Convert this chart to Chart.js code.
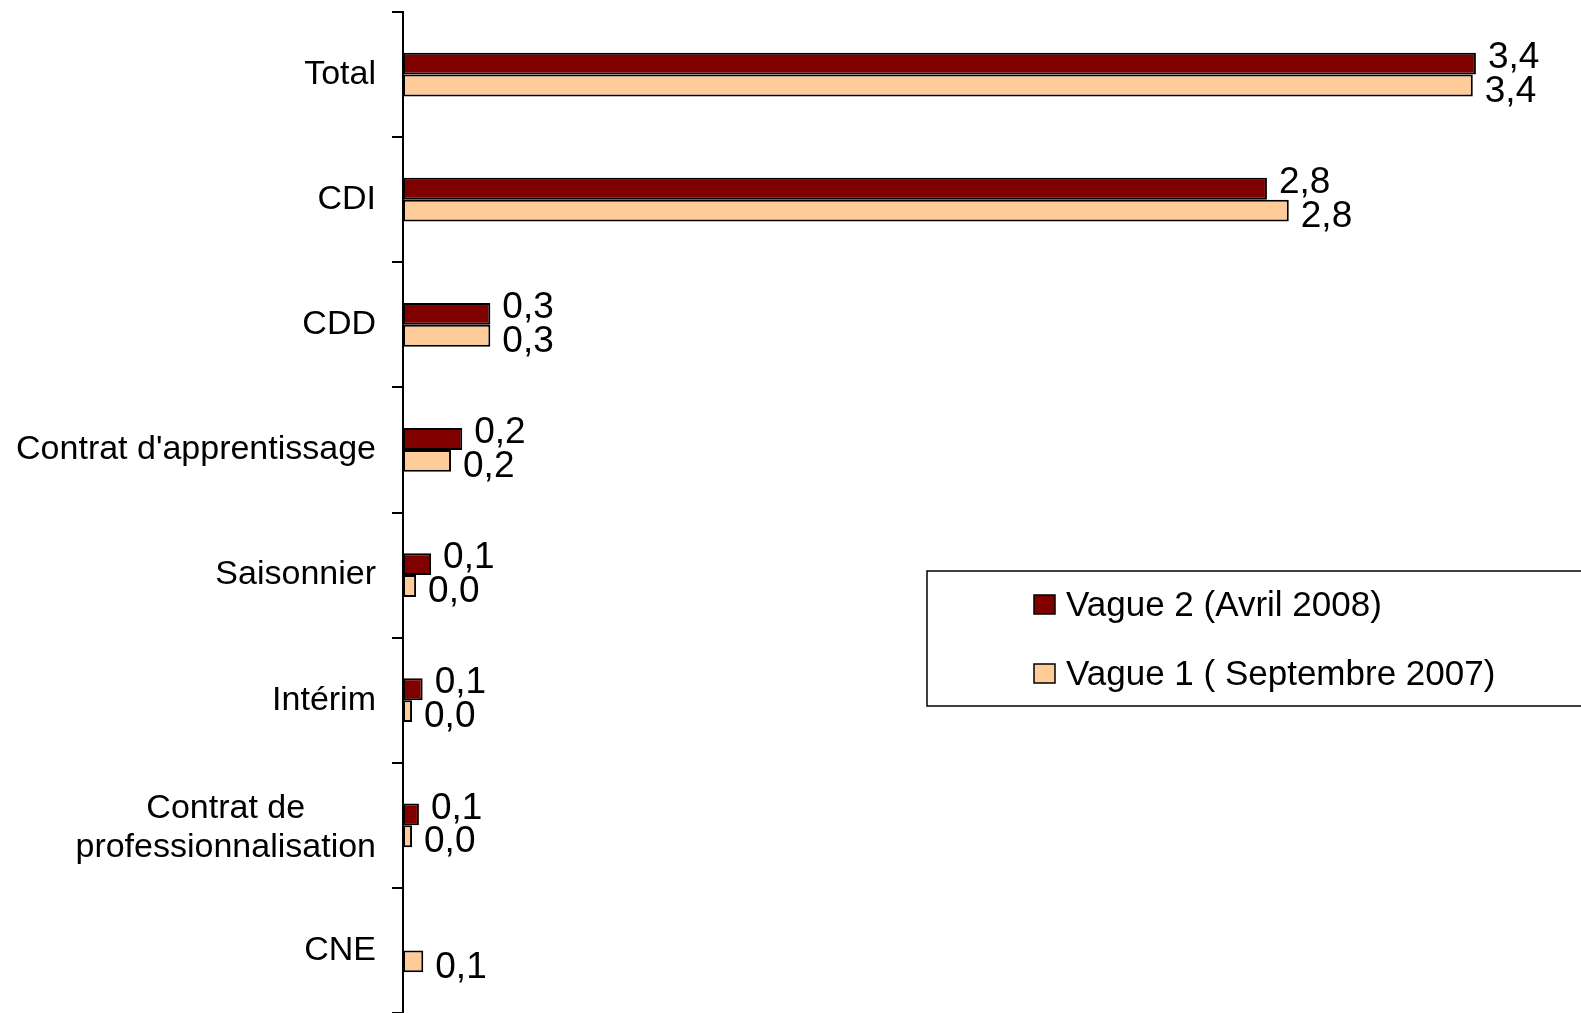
<!DOCTYPE html>
<html>
<head>
<meta charset="utf-8">
<script src="https://cdn.jsdelivr.net/npm/chart.js@4.4.1/dist/chart.umd.min.js"></script>
<style>
  html, body { margin: 0; padding: 0; background: #ffffff; }
  canvas { display: block; }
</style>
</head>
<body>
<canvas id="c" width="1581" height="1013"></canvas>
<script>
const categories = [
  'Total',
  'CDI',
  'CDD',
  "Contrat d'apprentissage",
  'Saisonnier',
  'Intérim',
  ['Contrat de', 'professionnalisation'],
  'CNE'
];
const seriesNames = ['Vague 2 (Avril 2008)', 'Vague 1 ( Septembre 2007)'];
const vague2 = [3.44, 2.77, 0.28, 0.19, 0.09, 0.063, 0.051, null];
const vague1 = [3.43, 2.84, 0.28, 0.154, 0.042, 0.029, 0.029, 0.065];

const FONT = "'Liberation Sans', Arial, sans-serif";
const COL_V2 = '#800000';
const COL_V1 = '#FFCC99';

function fmt(v) { return v.toFixed(1).replace('.', ','); }

// Category labels: right-aligned block, lines centred within the block
const categoryLabels = {
  id: 'categoryLabels',
  afterDraw(chart) {
    const scale = chart.scales.y;
    const ctx = chart.ctx;
    ctx.save();
    ctx.font = '34px ' + FONT;
    ctx.fillStyle = '#000';
    ctx.textBaseline = 'middle';
    ctx.textAlign = 'center';
    const right = scale.right - 11 - 16;
    const lh = 39;
    chart.data.labels.forEach((lab, i) => {
      const lines = Array.isArray(lab) ? lab : [lab];
      const w = Math.max(...lines.map(l => ctx.measureText(l).width));
      const cx = right - w / 2;
      const cy = scale.getPixelForValue(i) + (lines.length > 1 ? 3 : 0);
      const y0 = cy - (lines.length - 1) * lh / 2;
      lines.forEach((l, k) => ctx.fillText(l, cx, y0 + k * lh));
    });
    ctx.restore();
  }
};

const valueLabels = {
  id: 'valueLabels',
  afterDatasetsDraw(chart) {
    const ctx = chart.ctx;
    ctx.save();
    ctx.font = '37px ' + FONT;
    ctx.fillStyle = '#000';
    ctx.textAlign = 'left';
    ctx.textBaseline = 'middle';
    const offsets = [-6, 6];
    chart.data.datasets.forEach((ds, di) => {
      const meta = chart.getDatasetMeta(di);
      meta.data.forEach((el, i) => {
        const v = ds.data[i];
        if (v === null || v === undefined) return;
        ctx.fillText(fmt(v), el.x + 12, el.y + offsets[di]);
      });
    });
    ctx.restore();
  }
};

const boxLegend = {
  id: 'boxLegend',
  afterDraw(chart) {
    const ctx = chart.ctx;
    ctx.save();
    ctx.fillStyle = '#fff';
    ctx.fillRect(927, 571, 700, 135);
    ctx.strokeStyle = '#000';
    ctx.lineWidth = 1.5;
    ctx.strokeRect(927, 571, 700, 135);
    ctx.font = '35px ' + FONT;
    ctx.textAlign = 'left';
    ctx.textBaseline = 'middle';
    const ys = [605, 674];
    chart.data.datasets.forEach((ds, i) => {
      ctx.fillStyle = ds.backgroundColor;
      ctx.fillRect(1034, ys[i] - 10, 21, 19);
      ctx.lineWidth = 1.5;
      ctx.strokeStyle = '#000';
      ctx.strokeRect(1034, ys[i] - 10, 21, 19);
      ctx.fillStyle = '#000';
      ctx.fillText(ds.label, 1066, ys[i] + 1);
    });
    ctx.restore();
  }
};

new Chart(document.getElementById('c'), {
  type: 'bar',
  data: {
    labels: categories,
    datasets: [
      {
        label: seriesNames[0],
        data: vague2,
        backgroundColor: COL_V2,
        borderColor: '#000',
        borderWidth: 2,
        borderSkipped: false,
        categoryPercentage: 0.35,
        barPercentage: 1.0
      },
      {
        label: seriesNames[1],
        data: vague1,
        backgroundColor: COL_V1,
        borderColor: '#000',
        borderWidth: 2,
        borderSkipped: false,
        categoryPercentage: 0.35,
        barPercentage: 1.0
      }
    ]
  },
  options: {
    indexAxis: 'y',
    responsive: false,
    animation: false,
    devicePixelRatio: 1,
    layout: { padding: { top: 12, bottom: 0, left: 0, right: 24 } },
    plugins: {
      legend: { display: false },
      title: { display: false },
      tooltip: { enabled: false }
    },
    scales: {
      x: {
        display: false,
        min: 0,
        max: 3.7
      },
      y: {
        position: 'left',
        grid: {
          display: true,
          drawOnChartArea: false,
          drawTicks: true,
          tickLength: 11,
          color: '#000',
          lineWidth: 2,
          offset: true
        },
        border: { display: true, color: '#000', width: 2 },
        ticks: {
          display: false,
          autoSkip: false
        },
        afterFit(scale) {
          scale.width = 403;
          scale.paddingTop = 0;
          scale.paddingBottom = 0;
        }
      }
    }
  },
  plugins: [categoryLabels, valueLabels, boxLegend]
});
</script>
</body>
</html>
